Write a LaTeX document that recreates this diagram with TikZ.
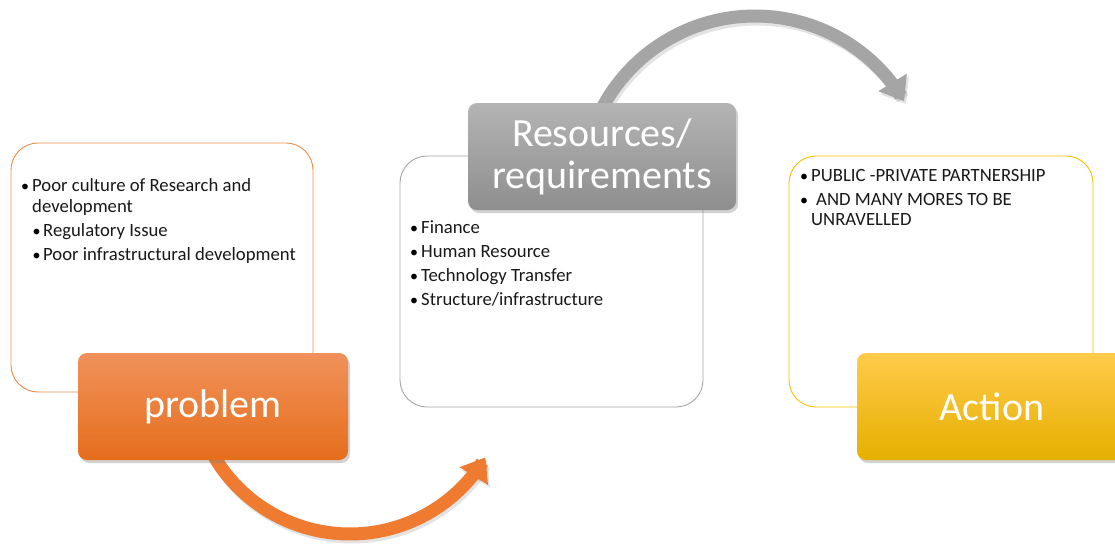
\documentclass[tikz,border=0pt]{standalone}
\usepackage{fontspec}
\setmainfont{Carlito}
\usetikzlibrary{arrows.meta,shadows}
\definecolor{orline}{HTML}{F08C4A}
\definecolor{ortop}{HTML}{F0915A}
\definecolor{ormid}{HTML}{F37E2C}
\definecolor{orbot}{HTML}{E66E1C}
\definecolor{orarrow}{HTML}{EE7B30}
\definecolor{grline}{HTML}{A6A6A6}
\definecolor{grtop}{HTML}{B4B4B4}
\definecolor{grmid}{HTML}{A3A3A3}
\definecolor{grbot}{HTML}{8E8E8E}
\definecolor{grarrow}{HTML}{A5A5A5}
\definecolor{yeline}{HTML}{FFC000}
\definecolor{yetop}{HTML}{FFCA4A}
\definecolor{yemid}{HTML}{FFC000}
\definecolor{yebot}{HTML}{E6B000}
\begin{document}
\begin{tikzpicture}[x=1pt,y=-1pt,
  outerbox/.style={draw, line width=0.9pt, fill=white, rounded corners=27pt, inner sep=0pt},
  labelbox/.style={rounded corners=9pt, inner sep=0pt, minimum width=270pt, minimum height=107pt,
     text=white, font=\fontsize{40}{42}\selectfont, align=center,
     drop shadow={opacity=0.35, shadow xshift=2pt, shadow yshift=-3pt}},
  txt/.style={anchor=base west, inner sep=0pt, font=\fontsize{18.7}{21}\selectfont, text=black!90},
  bul/.style={anchor=base west, inner sep=0pt, font=\fontsize{16}{21}\selectfont},
  arr/.style={line width=13pt, -{Triangle[width=32pt,length=22pt]}}
]
\clip (0,0) rectangle (1115,544);
\fill[white] (0,0) rectangle (1115,544);

% outer boxes
\node[outerbox, draw=orline, minimum width=302pt, minimum height=249pt] (pbox) at (162,267.5) {};
\node[outerbox, draw=grline, minimum width=303pt, minimum height=251pt] (rbox) at (551.5,281.5) {};
\node[outerbox, draw=yeline, minimum width=304pt, minimum height=251pt] (abox) at (941,281.5) {};

% arrows
\draw[arr, gray, opacity=0.22] plot[smooth, samples=40, domain=150:31] ({352+158*cos(\x)}, {379+158*sin(\x)});
\draw[arr, orarrow] plot[smooth, samples=40, domain=150:31] ({350+158*cos(\x)}, {376+158*sin(\x)}) coordinate (otip);
\draw[arr, gray, opacity=0.22] plot[smooth, samples=40, domain=-153:-30.5] ({757+173*cos(\x)}, {192+173*sin(\x)});
\draw[arr, grarrow] plot[smooth, samples=40, domain=-153:-30.5] ({755+173*cos(\x)}, {189+173*sin(\x)}) coordinate (gtip);

% label boxes
\node[labelbox, top color=ortop, middle color=ormid, bottom color=orbot] (plab) at (213,406.5) {problem};
\node[labelbox, top color=grtop, middle color=grmid, bottom color=grbot, minimum width=268pt] (rlab) at (602,156.5) {\raisebox{-2pt}{Resources/}\\\raisebox{-2pt}{requirements}};
\node[labelbox, top color=yetop, middle color=yemid, bottom color=yebot] (alab) at (992,406.5) {Action};

% problem texts
\node[bul] (pb1) at (21,191) {\textbullet};
\node[txt] (pt1) at (32,191) {Poor culture of Research and};
\node[txt] (pt1b) at (32,212) {development};
\node[bul] (pb2) at (32.5,236) {\textbullet};
\node[txt] (pt2) at (43,236) {Regulatory Issue};
\node[bul] (pb3) at (32.5,260) {\textbullet};
\node[txt] (pt3) at (43,260) {Poor infrastructural development};

% resources texts
\node[bul] (rb1) at (410,233) {\textbullet};
\node[txt] (rt1) at (421,233) {Finance};
\node[bul] (rb2) at (410,257) {\textbullet};
\node[txt] (rt2) at (421,257) {Human Resource};
\node[bul] (rb3) at (410,281) {\textbullet};
\node[txt] (rt3) at (421,281) {Technology Transfer};
\node[bul] (rb4) at (410,305) {\textbullet};
\node[txt] (rt4) at (421,305) {Structure/infrastructure};

% action texts
\node[bul] (ab1) at (800,181) {\textbullet};
\node[txt] (at1) at (811,181) {PUBLIC -PRIVATE PARTNERSHIP};
\node[bul] (ab2) at (800,205) {\textbullet};
\node[txt] (at2) at (816,205) {AND MANY MORES TO BE};
\node[txt] (at2b) at (811,225) {UNRAVELLED};
\end{tikzpicture}
\end{document}
